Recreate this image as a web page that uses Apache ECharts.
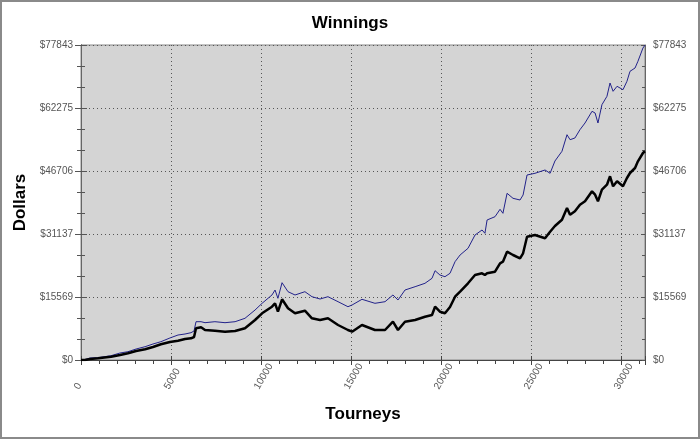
<!DOCTYPE html>
<html>
<head>
<meta charset="utf-8">
<script src="https://cdn.jsdelivr.net/npm/echarts@6/dist/echarts.min.js"></script>
<style>
html,body{margin:0;padding:0;background:#fff;}
#chart{width:700px;height:439px;}
</style>
</head>
<body>
<div id="chart"></div>
<script>
// Tourney counts (x) sampled along the curves
var tourneys = [0,220,500,940,1670,2170,2610,3060,3560,4000,4440,4940,5390,5780,6110,6280,6390,6670,6890,7440,8000,8560,9110,9670,10060,10610,10780,10940,11170,11500,11890,12440,12830,13280,13720,14280,14830,15060,15610,16330,16890,17330,17610,18000,18560,19110,19500,19670,19940,20220,20500,20780,21060,21500,21890,22280,22440,22560,23000,23280,23440,23670,24000,24390,24560,24780,25220,25780,26060,26330,26720,27000,27170,27440,27720,28000,28390,28560,28720,28940,29220,29390,29560,29780,30110,30330,30500,30780,30940,31220,31330];
// Blue series (upper line) dollars
var blueSeries = [0,124,494,568,1063,1730,2051,2718,3287,3954,4522,5437,6178,6425,6746,7166,9465,9465,9218,9465,9218,9465,10305,12356,14011,16063,17298,15247,19102,16878,16063,16878,15643,15074,15643,14407,13171,13592,15000,14011,14407,16063,14827,17298,18114,18954,20189,22068,21005,20585,21425,24292,25948,27603,30890,32126,31310,34597,35412,37241,36252,41195,39959,39539,40775,45717,46137,46953,46137,49177,51574,55675,54440,54861,56912,58567,61459,61039,58567,63089,65165,68452,66401,67636,66796,68872,71344,72159,73815,77101,77800];
// Black series (lower line) dollars
var blackSeries = [0,0,247,420,815,1236,1656,2224,2644,3213,3880,4448,4769,5190,5362,5684,7834,8081,7414,7241,6993,7166,7834,9885,11541,13171,14011,11936,15000,12776,11541,12183,10305,9885,10305,8649,7414,6993,8649,7414,7414,9465,7414,9465,9885,10700,11120,13171,11936,11541,13097,15643,16878,18954,21005,21425,21005,21425,21821,23896,24292,26763,25948,25132,26368,30470,30890,30075,31705,33114,34671,37562,35906,36747,38378,39218,41689,40849,39218,42084,43320,45396,42925,44160,42925,44976,46211,47447,49103,51154,51574];
// Axis tick labels
var yTickLabels = ["$0","$15569","$31137","$46706","$62275","$77843"];
var yMax = 77843;
var xMax = 31333;
var xInterval = 5000;

var yInterval = yMax / (yTickLabels.length - 1);
function yFmt(v){ var i = Math.round(v / yInterval); return yTickLabels[i] !== undefined ? yTickLabels[i] : ''; }

var bluePts = tourneys.map(function(x,i){return [x, blueSeries[i]];});
var blackPts = tourneys.map(function(x,i){return [x, blackSeries[i]];});

var font = 'Liberation Sans, Arial, sans-serif';
var lblColor = '#555';

function yAx(pos, showLabel, inside, extra){
  var a = {
    type:'value', position:pos, min:0, max:yMax, interval:yInterval,
    axisLine:{show:true, lineStyle:{color:'#666', width:1}},
    axisTick:{show:true, inside:inside, length: inside?3:6, lineStyle:{color:'#555'}},
    minorTick:{show:true, splitNumber:3, length: 4, lineStyle:{color:'#555'}},
    axisLabel:{show:showLabel, formatter:yFmt, color:lblColor, fontFamily:font, fontSize:10, margin:8},
    splitLine:{show:false}
  };
  if (extra) for (var k in extra) a[k]=extra[k];
  return a;
}

var chart = echarts.init(document.getElementById('chart'), null, {renderer:'canvas'});
chart.setOption({
  animation:false,
  backgroundColor:'#fff',
  title:{text:'Winnings', left:'center', top:10, textStyle:{fontFamily:font, fontSize:17, fontWeight:'bold', color:'#000'}},
  grid:{left:81, right:55, top:45, bottom:79, show:true, backgroundColor:'#d4d4d4', borderColor:'#888', borderWidth:1},
  xAxis:[{
    type:'value', min:0, max:xMax, interval:xInterval,
    name:'Tourneys', nameLocation:'middle', nameGap:46,
    nameTextStyle:{fontFamily:font, fontSize:17, fontWeight:'bold', color:'#000'},
    axisLine:{show:true, lineStyle:{color:'#444'}},
    axisTick:{show:true, length:5, lineStyle:{color:'#444'}},
    minorTick:{show:true, splitNumber:5, length:4, lineStyle:{color:'#444'}},
    axisLabel:{rotate:60, color:lblColor, fontFamily:font, fontSize:10, margin:31, align:'left', verticalAlign:'bottom',
      showMaxLabel:false, formatter:function(v){return String(v);}},
    splitLine:{show:true, lineStyle:{type:[1,3], color:'#555', width:1}}
  },{
    type:'value', min:0, max:xMax, interval:xInterval, position:'bottom',
    axisLine:{show:false}, axisTick:{show:true, inside:true, length:4, lineStyle:{color:'#444'}},
    minorTick:{show:false}, axisLabel:{show:false}, splitLine:{show:false}
  }],
  yAxis:[
    yAx('left', true, false, {name:'Dollars', nameLocation:'middle', nameGap:49,
      nameTextStyle:{fontFamily:font, fontSize:17, fontWeight:'bold', color:'#000'},
      splitLine:{show:true, lineStyle:{type:[1,3], color:'#555', width:1}}}),
    yAx('right', true, false),
    yAx('left', false, true, {minorTick:{show:true, splitNumber:3, length:3, lineStyle:{color:'#555'}}}),
    yAx('right', false, true, {minorTick:{show:true, splitNumber:3, length:3, lineStyle:{color:'#555'}}})
  ],
  graphic:[{type:'rect', shape:{x:1, y:1, width:698, height:437}, style:{fill:'none', stroke:'#8a8a8a', lineWidth:2}, silent:true}],
  series:[
    {type:'line', name:'blue', data:bluePts, showSymbol:false, xAxisIndex:0, yAxisIndex:0,
     lineStyle:{color:'#22228a', width:1}, itemStyle:{color:'#22228a'}},
    {type:'line', name:'black', data:blackPts, showSymbol:false, xAxisIndex:0, yAxisIndex:0,
     lineStyle:{color:'#000', width:2.5}, itemStyle:{color:'#000'}}
  ]
});
</script>
</body>
</html>
